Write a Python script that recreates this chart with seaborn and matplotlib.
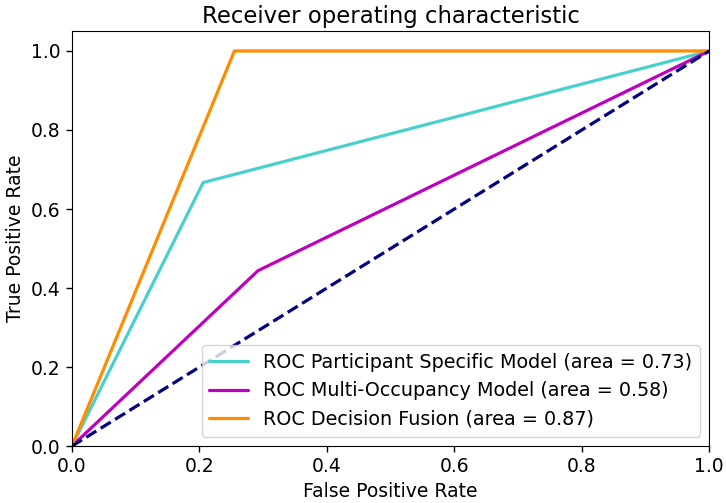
import numpy as np
import pandas as pd
import matplotlib
matplotlib.use('Agg')
import matplotlib.pyplot as plt
import seaborn as sns

# ROC points
fpr_participant = [0.0, 0.206, 1.0]
tpr_participant = [0.0, 0.667, 1.0]
fpr_multi = [0.0, 0.292, 1.0]
tpr_multi = [0.0, 0.444, 1.0]
fpr_fusion = [0.0, 0.255, 1.0]
tpr_fusion = [0.0, 1.0, 1.0]

labels = ['ROC Participant Specific Model (area = 0.73)',
          'ROC Multi-Occupancy Model (area = 0.58)',
          'ROC Decision Fusion (area = 0.87)']
colors = ['mediumturquoise', 'm', 'darkorange']

sns.set_style('ticks')
plt.rcParams['font.family'] = ['DejaVu Sans']
plt.rcParams['text.color'] = 'black'
plt.rcParams['axes.labelcolor'] = 'black'
plt.rcParams['xtick.color'] = 'black'
plt.rcParams['ytick.color'] = 'black'

fig, ax = plt.subplots(figsize=(7.26, 5.03), dpi=100)

curves = [(fpr_participant, tpr_participant),
          (fpr_multi, tpr_multi),
          (fpr_fusion, tpr_fusion)]
for (fpr, tpr), label, color in zip(curves, labels, colors):
    df = pd.DataFrame({'fpr': fpr, 'tpr': tpr})
    sns.lineplot(data=df, x='fpr', y='tpr', color=color, lw=2.3, label=label,
                 sort=False, ax=ax)

ax.plot([0, 1], [0, 1], color='navy', lw=2.3, linestyle='--')

ax.set_xlim(0.0, 1.0)
ax.set_ylim(0.0, 1.05)
ax.set_xlabel('False Positive Rate', fontsize=13.5)
ax.set_ylabel('True Positive Rate', fontsize=13.5)
ax.set_title('Receiver operating characteristic', fontsize=16.4)
ax.tick_params(labelsize=13.5, length=4.5, width=1)
for s in ax.spines.values():
    s.set_color('black')
ax.legend(loc='lower right', fontsize=13.8)

fig.subplots_adjust(left=0.099, right=0.977, bottom=0.113, top=0.938)
fig.savefig('out.png', dpi=100)
